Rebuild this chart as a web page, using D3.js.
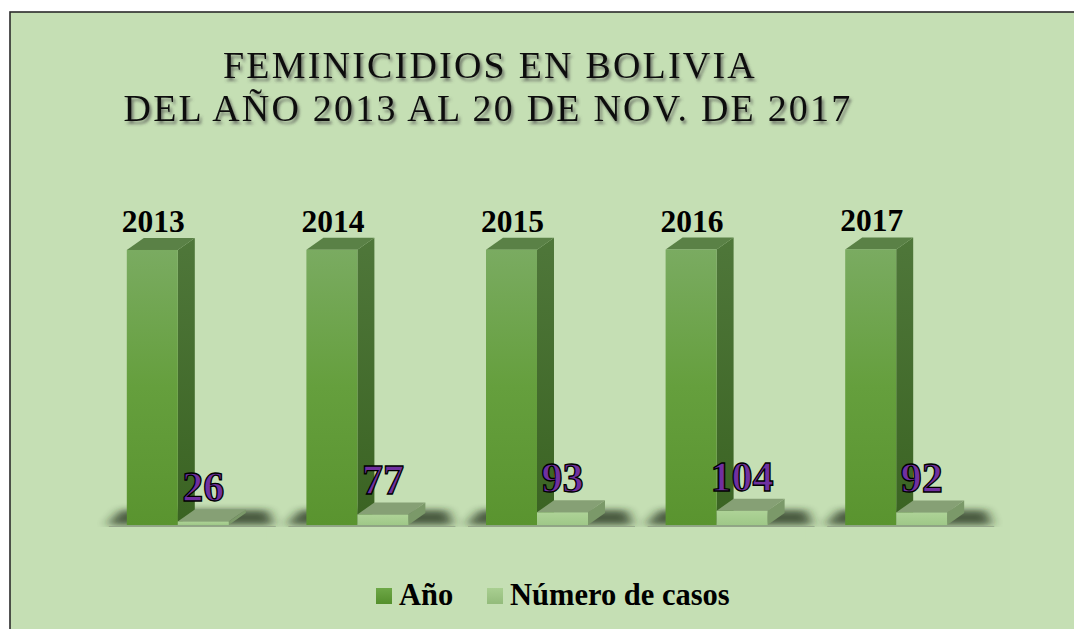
<!DOCTYPE html>
<html><head><meta charset="utf-8">
<script src="https://cdn.jsdelivr.net/npm/d3@7"></script>
<style>html,body{margin:0;padding:0;background:#fff;}svg{display:block;}</style>
</head><body>
<svg id="chart" width="1074" height="629"></svg>
<script>
const categories = ["2013","2014","2015","2016","2017"];
const seriesNames = ["Año","Número de casos"];
const anioValues = [2013, 2014, 2015, 2016, 2017];
const casosValues = [26, 77, 93, 104, 92];
const titleLines = ["FEMINICIDIOS EN BOLIVIA","DEL AÑO 2013 AL 20 DE NOV. DE 2017"];

const svg = d3.select("#chart");
const defs = svg.append("defs");
function lg(id, stops, vertical=true){
  const g = defs.append("linearGradient").attr("id",id)
    .attr("x1",0).attr("y1",0).attr("x2",vertical?0:1).attr("y2",vertical?1:0);
  stops.forEach(([o,c])=>g.append("stop").attr("offset",o).attr("stop-color",c));
}
lg("bigFront",[[0,"#7aab61"],[0.5,"#659f3d"],[1,"#5a942f"]]);
lg("bigSide",[[0,"#4f773a"],[1,"#3a6322"]]);
lg("smallFront",[[0,"#aed397"],[1,"#9fc888"]]);
lg("legA",[[0,"#6ea847"],[1,"#548f2c"]]);
lg("legB",[[0,"#a9cf91"],[1,"#93bb7b"]]);
defs.append("filter").attr("id","blur").attr("x","-50%").attr("y","-200%").attr("width","200%").attr("height","500%")
  .append("feGaussianBlur").attr("stdDeviation","6 3");
const ts = defs.append("filter").attr("id","tshadow").attr("x","-10%").attr("y","-30%").attr("width","120%").attr("height","180%");
ts.append("feDropShadow").attr("dx",2).attr("dy",3).attr("stdDeviation",1.6).attr("flood-color","#4a4a4a").attr("flood-opacity",0.7);

// background frame
svg.append("rect").attr("x",10).attr("y",12).attr("width",1080).attr("height",640)
  .attr("fill","#c5dfb4").attr("stroke","#2b2b2b").attr("stroke-width",1.6);

// scales
const base = 525;
const y = d3.scaleLinear().domain([0, 2200]).range([base, base - 2200*0.13662]);
const x = d3.scaleBand().domain(categories).range([88, 986]).padding(0);
const half = 51;
const x1 = d3.scaleBand().domain(seriesNames)
  .range([x.bandwidth()/2 - half, x.bandwidth()/2 + half]).padding(0);
const dx = 17, dy = 12;

const data = categories.map((c,i)=>({cat:c, vals:[anioValues[i], casosValues[i]]}));

// title
const title = svg.append("g").attr("filter","url(#tshadow)");
title.selectAll("text").data(titleLines).enter().append("text")
  .attr("x",(d,i)=> i===0?490:488).attr("y",(d,i)=> i===0?78:121)
  .attr("text-anchor","middle")
  .attr("font-family","'Liberation Serif','Times New Roman',serif")
  .attr("font-size",38).attr("letter-spacing",2.2)
  .attr("fill","#111").text(d=>d);

// groups
const groups = svg.selectAll("g.grp").data(data).enter().append("g").attr("class","grp")
  .attr("transform",d=>`translate(${x(d.cat)},0)`);

// floor shadows
groups.append("path")
  .attr("d",()=>{
    const l = x1("Año") - 20, r = x1("Número de casos") + x1.bandwidth() + dx + 28;
    return `M${l},${base} L${r},${base} L${r-6},${base-15} L${l+14},${base-15} Z`;
  })
  .attr("fill","#1f2a18").attr("opacity",0.72).attr("filter","url(#blur)");
groups.append("line")
  .attr("x1",x1("Año")-18).attr("x2",x1("Número de casos")+x1.bandwidth()+dx+30)
  .attr("y1",base+1.5).attr("y2",base+1.5).attr("stroke","#8f9e86").attr("stroke-width",1.2).attr("opacity",0.7);
groups.append("rect").attr("x",x1("Año")-40).attr("width",x1.bandwidth()*2+dx+90)
  .attr("y",base+2).attr("height",14).attr("fill","#c5dfb4");

function drawBar(g, xs, w, v, front, top, side){
  const yt = y(v);
  g.append("path").attr("d",`M${xs+w},${yt} L${xs+w+dx},${yt-dy} L${xs+w+dx},${base-dy} L${xs+w},${base} Z`).attr("fill",side);
  g.append("path").attr("d",`M${xs},${yt} L${xs+dx},${yt-dy} L${xs+w+dx},${yt-dy} L${xs+w},${yt} Z`).attr("fill",top);
  g.append("rect").attr("x",xs).attr("y",yt).attr("width",w).attr("height",base-yt).attr("fill",front);
}
groups.each(function(d){
  const g = d3.select(this);
  drawBar(g, x1("Año"), x1.bandwidth(), d.vals[0], "url(#bigFront)", "#5a8146", "url(#bigSide)");
  drawBar(g, x1("Número de casos"), x1.bandwidth(), d.vals[1], "url(#smallFront)", "#86a075", "#7b9969");
});

// year labels
groups.append("text")
  .attr("x",x1("Año")+x1.bandwidth()/2+1).attr("y",d=>y(d.vals[0])-dy-6)
  .attr("text-anchor","middle")
  .attr("font-family","'Liberation Serif','Times New Roman',serif")
  .attr("font-weight","bold").attr("font-size",31.5).attr("fill","#000")
  .text(d=>d.vals[0]);
// value labels
groups.append("text")
  .attr("x",x1("Número de casos")+x1.bandwidth()/2).attr("y",d=>y(d.vals[1])-dy-8)
  .attr("text-anchor","middle")
  .attr("font-family","'Liberation Serif','Times New Roman',serif")
  .attr("font-weight","bold").attr("font-size",42).attr("fill","#7030a0")
  .attr("stroke","#000").attr("stroke-width",1.3)
  .text(d=>d.vals[1]);

// legend
const leg = svg.append("g");
const legItems = [{name:seriesNames[0], fill:"url(#legA)", x:376},{name:seriesNames[1], fill:"url(#legB)", x:487}];
leg.selectAll("rect").data(legItems).enter().append("rect")
  .attr("x",d=>d.x).attr("y",588).attr("width",16).attr("height",16).attr("fill",d=>d.fill);
leg.selectAll("text").data(legItems).enter().append("text")
  .attr("x",d=>d.x+23).attr("y",605)
  .attr("font-family","'Liberation Serif','Times New Roman',serif")
  .attr("font-weight","bold").attr("font-size",30.5).attr("fill","#000")
  .text(d=>d.name);
</script>
</body></html>
